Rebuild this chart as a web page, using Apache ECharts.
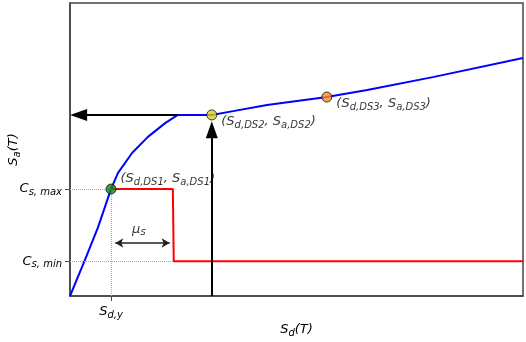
<!DOCTYPE html>
<html>
<head>
<meta charset="utf-8">
<script src="https://cdn.jsdelivr.net/npm/echarts@6/dist/echarts.min.js"></script>
<style>
  html, body { margin: 0; padding: 0; background: #fff; }
  #chart { width: 526px; height: 342px; }
</style>
</head>
<body>
<div id="chart"></div>
<script>
// capacity curve (blue), axes normalised to 0..100
const curveX = [0, 3.3, 6.2, 9.05, 10.6, 13.7, 17.2, 21.0, 23.8, 31.3, 36.0, 43.5, 56.7, 65.6, 80.1, 100];
const curveY = [0, 12.3, 23.5, 36.5, 42.0, 48.8, 54.3, 59.0, 61.8, 61.8, 63.1, 65.2, 67.9, 70.3, 74.7, 81.2];

// strength demand (red)
const redX = [9.05, 22.7, 22.9, 100];
const redY = [36.5, 36.5, 11.9, 11.9];

// damage state points
const dsNames = ['DS1', 'DS2', 'DS3'];
const dsX = [9.05, 31.3, 56.7];
const dsY = [36.5, 61.8, 67.9];
const dsColors = ['#108a10', '#d8d020', '#ff8c1a'];

// tick positions
const sdy = 9.05;
const csMax = 36.5;
const csMin = 11.9;

const rich = {
  m: { fontFamily: 'DejaVu Sans', fontStyle: 'italic', fontSize: 13, color: '#000', lineHeight: 16 },
  s: { fontFamily: 'DejaVu Sans', fontStyle: 'italic', fontSize: 10, color: '#000', lineHeight: 14, verticalAlign: 'bottom' }
};

function pointLabel(ds) {
  return '{m|(S}{s|d,' + ds + '}{m|, S}{s|a,' + ds + '}{m|)}';
}

const chart = echarts.init(document.getElementById('chart'));

const dotted = { type: 'dotted', color: '#aaaaaa', width: 1 };

chart.setOption({
  animation: false,
  grid: {
    left: 70, right: 3, top: 3, bottom: 46, outerBoundsMode: 'none',
    show: true, borderColor: '#444', borderWidth: 1.5
  },
  xAxis: {
    type: 'value', min: 0, max: 100,
    splitLine: { show: false },
    axisLine: { lineStyle: { color: '#444', width: 1.5 } },
    axisTick: { customValues: [sdy], length: 5, lineStyle: { color: '#444' } },
    axisLabel: {
      customValues: [sdy], margin: 8,
      formatter: () => '{m|S}{s|d,y}', rich: rich
    },
    name: '{m|S}{s|d}{m|(T)}',
    nameLocation: 'middle', nameGap: 26, nameMoveOverlap: false,
    nameTextStyle: { rich: rich }
  },
  yAxis: {
    type: 'value', min: 0, max: 100,
    splitLine: { show: false },
    axisLine: { lineStyle: { color: '#444', width: 1.5 } },
    axisTick: { customValues: [csMax, csMin], length: 5, lineStyle: { color: '#444' } },
    axisLabel: {
      customValues: [csMax, csMin], margin: 8,
      formatter: v => v === csMax ? '{m|C}{s|s, max}' : '{m|C}{s|s, min}',
      rich: rich
    },
    name: '{m|S}{s|a}{m|(T)}',
    nameLocation: 'middle', nameGap: 48, nameMoveOverlap: false,
    nameTextStyle: { rich: rich }
  },
  series: [
    {
      type: 'line', name: 'guides', data: [], silent: true,
      markLine: {
        silent: true, symbol: ['none', 'none'], label: { show: false },
        lineStyle: dotted,
        data: [
          [{ coord: [0, csMax] }, { coord: [sdy, csMax] }],
          [{ coord: [0, csMin] }, { coord: [redX[2], csMin] }],
          [{ coord: [sdy, 0] }, { coord: [sdy, csMax] }]
        ]
      }
    },
    {
      type: 'line', name: 'demand', showSymbol: false,
      data: redX.map((x, i) => [x, redY[i]]),
      lineStyle: { color: '#ff0000', width: 2 }
    },
    {
      type: 'line', name: 'capacity', showSymbol: false,
      data: curveX.map((x, i) => [x, curveY[i]]),
      lineStyle: { color: '#0000ff', width: 2 }
    },
    {
      type: 'line', name: 'arrows', data: [], silent: true,
      markLine: {
        silent: true, label: { show: false },
        symbol: ['none', 'triangle'], symbolSize: [12, 17],
        lineStyle: { type: 'solid', color: '#000', width: 2 },
        data: [
          [{ coord: [curveX[8], curveY[8]] }, { coord: [1.9, curveY[8]] }],
          [{ coord: [dsX[1], 0] }, { coord: [dsX[1], 56.7] }]
        ]
      }
    },
    {
      type: 'line', name: 'mu', data: [], silent: true,
      markLine: {
        silent: true, label: { show: false },
        symbol: ['arrow', 'arrow'], symbolSize: [7, 8],
        lineStyle: { type: 'solid', color: '#222', width: 1.5 },
        data: [[{ coord: [10.0, 18.1] }, { coord: [22.0, 18.1] }]]
      }
    },
    {
      type: 'scatter', name: 'mu label', silent: true, symbolSize: 0,
      data: [[15.2, 22.6]],
      label: { show: true, position: 'inside', formatter: '{m|μ}{s|s}', rich: rich }
    },
    {
      type: 'scatter', name: 'damage states', symbolSize: 10,
      data: dsX.map((x, i) => ({
        value: [x, dsY[i]],
        itemStyle: { color: dsColors[i], borderColor: '#111', borderWidth: 1 },
        label: {
          show: true, position: 'right', distance: 4,
          offset: i === 0 ? [0, -10] : [0, 7],
          formatter: pointLabel(dsNames[i]), rich: rich
        }
      })),
      z: 5
    }
  ]
});
</script>
</body>
</html>
